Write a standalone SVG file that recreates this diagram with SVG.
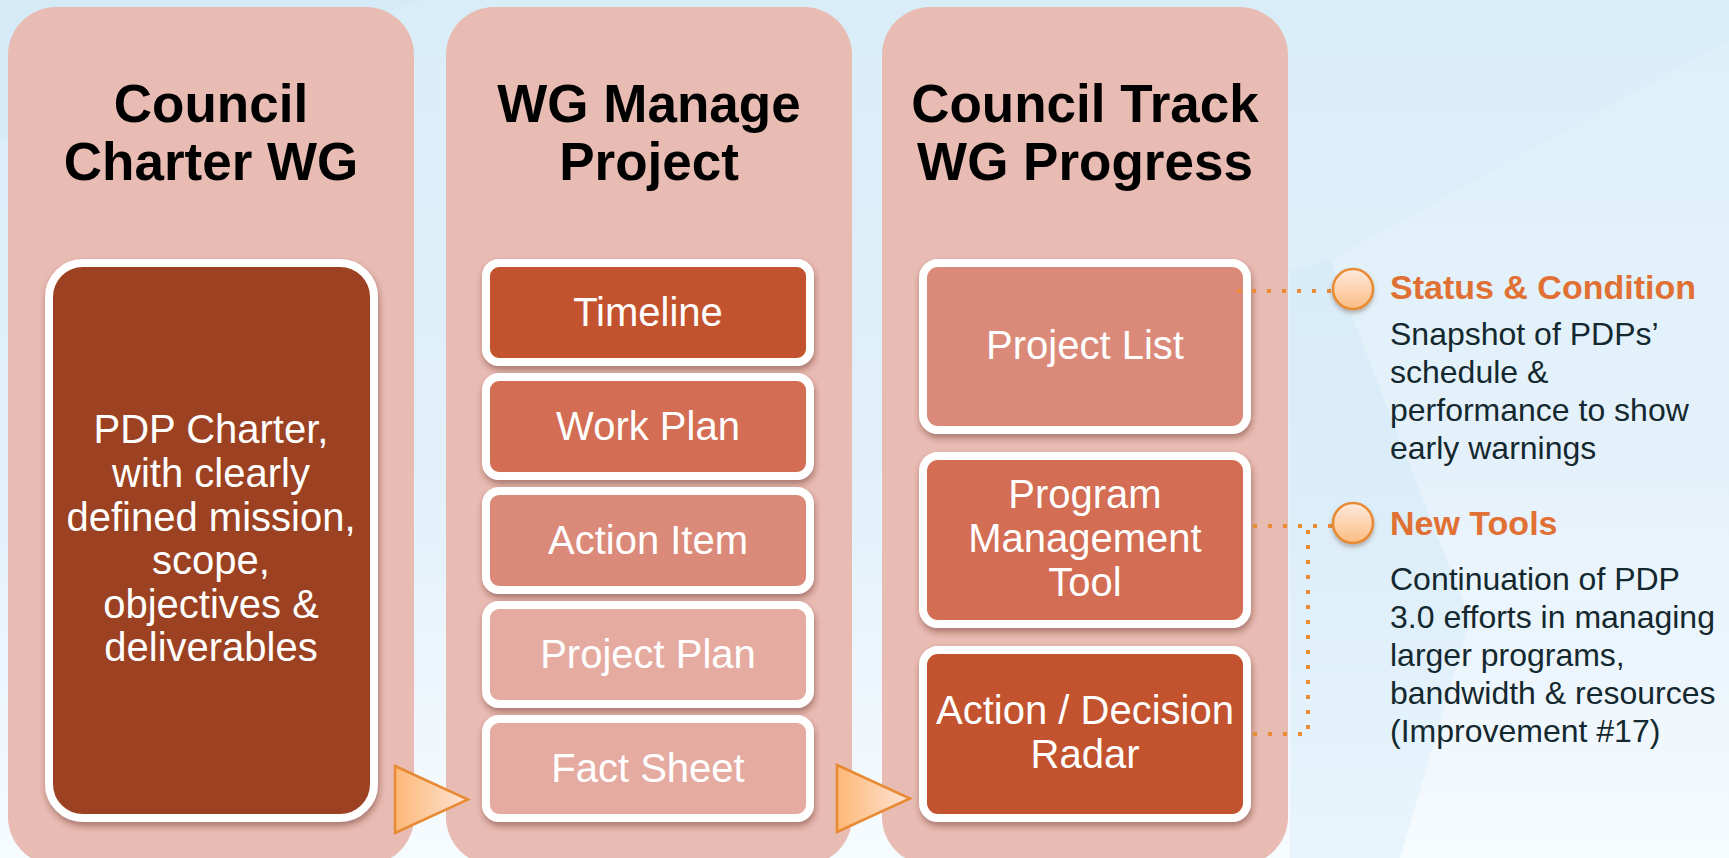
<svg xmlns="http://www.w3.org/2000/svg" width="1729" height="858" viewBox="0 0 1729 858">
  <defs>
    <linearGradient id="bg" x1="0" y1="0" x2="0" y2="1">
      <stop offset="0" stop-color="#d9edf9"/>
      <stop offset="0.55" stop-color="#e2f0fa"/>
      <stop offset="1" stop-color="#f6fbfe"/>
    </linearGradient>
    <linearGradient id="arrowGrad" x1="0" y1="0" x2="1" y2="0">
      <stop offset="0" stop-color="#fdb877"/>
      <stop offset="1" stop-color="#fde4d5"/>
    </linearGradient>
    <linearGradient id="dotGrad" x1="0" y1="0" x2="0" y2="1">
      <stop offset="0" stop-color="#fee9dc"/>
      <stop offset="1" stop-color="#fbbd83"/>
    </linearGradient>
    <filter id="shadow" x="-10%" y="-10%" width="125%" height="130%">
      <feDropShadow dx="1" dy="4" stdDeviation="3" flood-color="#5a2418" flood-opacity="0.45"/>
    </filter>
    <filter id="softShadow" x="-30%" y="-30%" width="160%" height="170%">
      <feDropShadow dx="0" dy="3" stdDeviation="2" flood-color="#6a5040" flood-opacity="0.4"/>
    </filter>
    <style>
      .col { fill: #e8bbb3; }
      .box { stroke: #ffffff; stroke-width: 8; filter: url(#shadow); }
      .c1 { fill: #9c4223; }
      .c2 { fill: #c2532f; }
      .c3 { fill: #d36d53; }
      .c4 { fill: #db8a7a; }
      .c5 { fill: #e5aba1; }
      .title { font-family: "Liberation Sans", Arial, sans-serif; font-weight: bold; font-size: 53px; fill: #000000; text-anchor: middle; }
      .lbl { font-family: "Liberation Sans", Arial, sans-serif; font-size: 40px; fill: #ffffff; text-anchor: middle; }
      .head { font-family: "Liberation Sans", Arial, sans-serif; font-weight: bold; font-size: 34px; fill: #e07033; }
      .body { font-family: "Liberation Sans", Arial, sans-serif; font-size: 32px; fill: #14282f; }
      .dots { fill: none; stroke: #ea8c36; stroke-width: 4; stroke-dasharray: 4 11; }
      .arrow { fill: url(#arrowGrad); stroke: #e88a33; stroke-width: 2.5; stroke-linejoin: miter; }
      .bullet { fill: url(#dotGrad); stroke: #e88a33; stroke-width: 2.5; filter: url(#softShadow); }
    </style>
  </defs>

  <!-- background -->
  <rect x="0" y="0" width="1729" height="858" fill="url(#bg)"/>
  <polygon points="1290,270 1330,260 1470,620 1400,858 1290,858" fill="#cfe8f7" opacity="0.35"/>
  <polygon points="1330,260 1729,40 1729,580 1470,620" fill="#ffffff" opacity="0.12"/>
  <polygon points="0,0 420,0 0,140" fill="#cde5f5" opacity="0.4"/>

  <!-- columns -->
  <g id="col1">
    <rect class="col" x="8" y="7" width="406" height="858" rx="48"/>
    <text class="title" x="211" y="122">Council</text>
    <text class="title" x="211" y="180">Charter WG</text>
  </g>
  <g id="col2">
    <rect class="col" x="446" y="7" width="406" height="858" rx="48"/>
    <text class="title" x="649" y="122">WG Manage</text>
    <text class="title" x="649" y="180">Project</text>
  </g>
  <g id="col3">
    <rect class="col" x="882" y="7" width="406" height="858" rx="48"/>
    <text class="title" x="1085" y="122">Council Track</text>
    <text class="title" x="1085" y="180">WG Progress</text>
  </g>

  <!-- column 1 node -->
  <g id="pdp-charter">
    <rect class="box c1" x="49" y="263" width="325" height="555" rx="34"/>
    <text class="lbl" x="211" y="443">PDP Charter,</text>
    <text class="lbl" x="211" y="487">with clearly</text>
    <text class="lbl" x="211" y="531">defined mission,</text>
    <text class="lbl" x="211" y="574">scope,</text>
    <text class="lbl" x="211" y="618">objectives &amp;</text>
    <text class="lbl" x="211" y="661">deliverables</text>
  </g>

  <!-- column 2 nodes -->
  <g id="timeline">
    <rect class="box c2" x="486" y="263" width="324" height="99" rx="13"/>
    <text class="lbl" x="648" y="326">Timeline</text>
  </g>
  <g id="work-plan">
    <rect class="box c3" x="486" y="377" width="324" height="99" rx="13"/>
    <text class="lbl" x="648" y="440">Work Plan</text>
  </g>
  <g id="action-item">
    <rect class="box c4" x="486" y="491" width="324" height="99" rx="13"/>
    <text class="lbl" x="648" y="554">Action Item</text>
  </g>
  <g id="project-plan">
    <rect class="box c5" x="486" y="605" width="324" height="99" rx="13"/>
    <text class="lbl" x="648" y="668">Project Plan</text>
  </g>
  <g id="fact-sheet">
    <rect class="box c5" x="486" y="719" width="324" height="99" rx="13"/>
    <text class="lbl" x="648" y="782">Fact Sheet</text>
  </g>

  <!-- column 3 nodes -->
  <g id="project-list">
    <rect class="box c4" x="923" y="263" width="324" height="167" rx="15"/>
    <text class="lbl" x="1085" y="359">Project List</text>
  </g>
  <g id="program-management-tool">
    <rect class="box c3" x="923" y="456" width="324" height="168" rx="15"/>
    <text class="lbl" x="1085" y="508">Program</text>
    <text class="lbl" x="1085" y="552">Management</text>
    <text class="lbl" x="1085" y="596">Tool</text>
  </g>
  <g id="action-decision-radar">
    <rect class="box c2" x="923" y="650" width="324" height="168" rx="15"/>
    <text class="lbl" x="1085" y="724">Action / Decision</text>
    <text class="lbl" x="1085" y="768">Radar</text>
  </g>

  <!-- connectors -->
  <g id="connectors">
    <polygon class="arrow" points="395,766 468,799.5 395,833"/>
    <polygon class="arrow" points="837,765 910,798.5 837,832"/>
    <path class="dots" d="M1237,291 H1332"/>
    <path class="dots" d="M1253,526 H1332"/>
    <path class="dots" d="M1253,734 H1308 V530"/>
  </g>

  <!-- right side notes -->
  <g id="status-condition">
    <circle class="bullet" cx="1353" cy="289" r="20"/>
    <text class="head" x="1390" y="299">Status &amp; Condition</text>
    <text class="body" x="1390" y="345">Snapshot of PDPs’</text>
    <text class="body" x="1390" y="383">schedule &amp;</text>
    <text class="body" x="1390" y="421">performance to show</text>
    <text class="body" x="1390" y="459">early warnings</text>
  </g>
  <g id="new-tools">
    <circle class="bullet" cx="1353" cy="523" r="20"/>
    <text class="head" x="1390" y="535">New Tools</text>
    <text class="body" x="1390" y="590">Continuation of PDP</text>
    <text class="body" x="1390" y="628">3.0 efforts in managing</text>
    <text class="body" x="1390" y="666">larger programs,</text>
    <text class="body" x="1390" y="704">bandwidth &amp; resources</text>
    <text class="body" x="1390" y="742">(Improvement #17)</text>
  </g>
</svg>
